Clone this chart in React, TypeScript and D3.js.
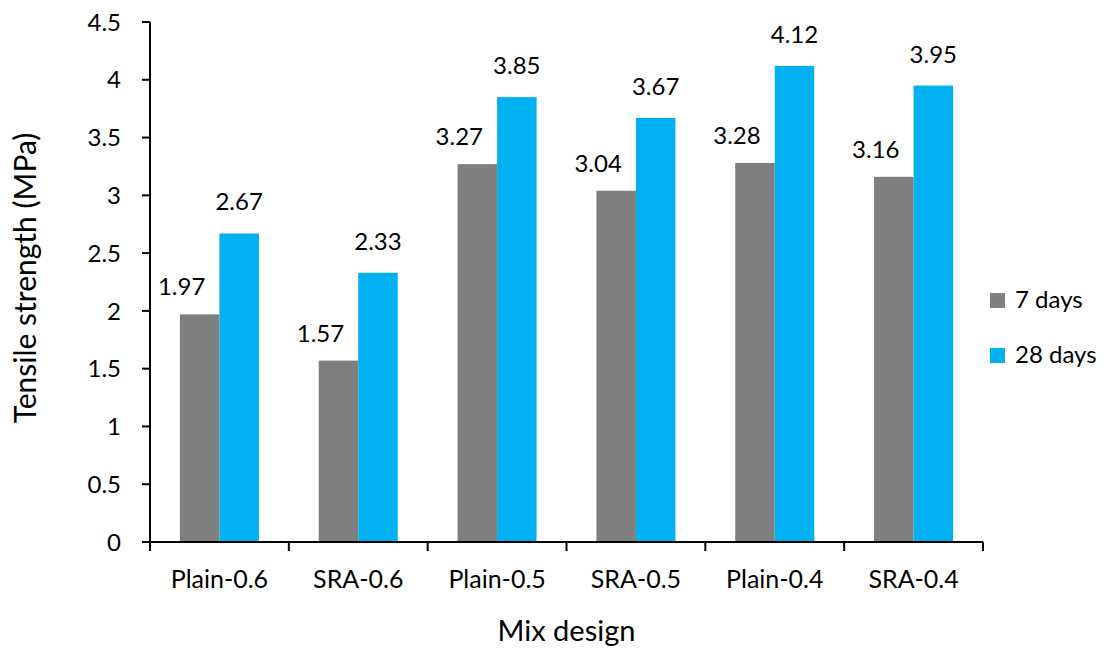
import React from "react";
import * as d3 from "d3";

const categories = ["Plain-0.6", "SRA-0.6", "Plain-0.5", "SRA-0.5", "Plain-0.4", "SRA-0.4"];
const seriesNames = ["7 days", "28 days"];
const days7 = [1.97, 1.57, 3.27, 3.04, 3.28, 3.16];
const days28 = [2.67, 2.33, 3.85, 3.67, 4.12, 3.95];
const yTicks = [0, 0.5, 1, 1.5, 2, 2.5, 3, 3.5, 4, 4.5];
const colors = ["#7f7f7f", "#00b0f0"];

const W = 1108;
const H = 650;
const left = 150;
const right = 983;
const top = 22;
const bottom = 542;
const font = "Lato, 'Open Sans', sans-serif";

// label placement per series: horizontal shift and gap above the bar top
const labelDx = [-18, 0];
const labelGap = [19, 23];

export default function App() {
  const x = d3.scaleBand<string>().domain(categories).range([left, right]).padding(0);
  const sub = d3
    .scaleBand<string>()
    .domain(seriesNames)
    .range([0, x.step()])
    .paddingInner(0)
    .paddingOuter(0.757);
  const y = d3.scaleLinear().domain([0, 4.5]).range([bottom, top]);
  const series = [days7, days28];
  const fmt = d3.format(".2f");
  const tickFmt = (v: number) => String(v);

  return (
    <svg width={W} height={H} style={{ position: "absolute", left: 0, top: 0, background: "#fff" }}>
      {/* bars and value labels */}
      {categories.map((c, i) => (
        <g key={c}>
          {series.map((vals, s) => {
            const bx = (x(c) as number) + (sub(seriesNames[s]) as number);
            const bw = sub.bandwidth();
            return (
              <g key={s}>
                <rect x={bx} y={y(vals[i])} width={bw} height={y(0) - y(vals[i])} fill={colors[s]} />
                <text
                  x={bx + bw / 2 + labelDx[s]}
                  y={y(vals[i]) - labelGap[s]}
                  textAnchor="middle"
                  fontFamily={font}
                  fontSize={24}
                  fill="#000"
                >
                  {fmt(vals[i])}
                </text>
              </g>
            );
          })}
        </g>
      ))}

      {/* y axis */}
      <line x1={left} x2={left} y1={top} y2={bottom} stroke="#000" strokeWidth={2} />
      {yTicks.map((t) => (
        <g key={t}>
          <line x1={left - 8} x2={left} y1={y(t)} y2={y(t)} stroke="#000" strokeWidth={2} />
          <text
            x={left - 29}
            y={y(t)}
            dy="0.36em"
            textAnchor="end"
            fontFamily={font}
            fontSize={24}
            fill="#000"
          >
            {tickFmt(t)}
          </text>
        </g>
      ))}

      {/* x axis */}
      <line x1={left} x2={right} y1={bottom} y2={bottom} stroke="#000" strokeWidth={2} />
      {[...categories.map((c) => x(c) as number), right].map((p, i) => (
        <line key={i} x1={p} x2={p} y1={bottom} y2={bottom + 9} stroke="#000" strokeWidth={2} />
      ))}
      {categories.map((c) => (
        <text
          key={c}
          x={(x(c) as number) + x.bandwidth() / 2}
          y={588}
          textAnchor="middle"
          fontFamily={font}
          fontSize={25}
          fill="#000"
        >
          {c}
        </text>
      ))}

      {/* axis titles */}
      <text x={(left + right) / 2} y={641} textAnchor="middle" fontFamily={font} fontSize={29} fill="#000">
        Mix design
      </text>
      <text
        transform={`translate(36, 278) rotate(-90)`}
        textAnchor="middle"
        fontFamily={font}
        fontSize={30}
        fill="#000"
      >
        Tensile strength (MPa)
      </text>

      {/* legend */}
      {seriesNames.map((n, i) => (
        <g key={n} transform={`translate(990, ${293 + i * 55})`}>
          <rect x={0} y={0} width={15} height={15} fill={colors[i]} />
          <text x={25} y={15} fontFamily={font} fontSize={24} fill="#000">
            {n}
          </text>
        </g>
      ))}
    </svg>
  );
}
